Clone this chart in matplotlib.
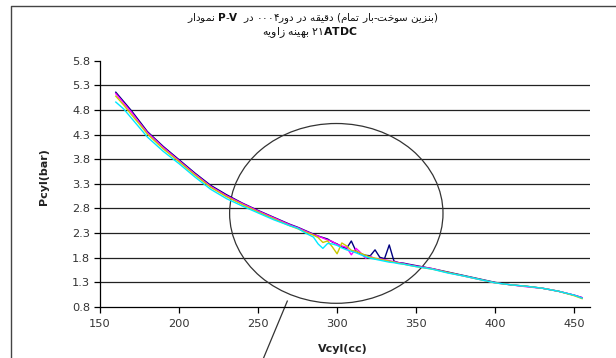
import numpy as np
import matplotlib
matplotlib.use('Agg')
import matplotlib.pyplot as plt
from matplotlib.patches import Ellipse
from matplotlib.lines import Line2D

plt.rcParams['font.family'] = ['DejaVu Sans']
plt.rcParams['mathtext.fontset'] = 'dejavusans'

# === DATA ===
vcyl = [160, 165, 170, 175, 180, 190, 200, 210, 220, 230, 240, 250, 260, 270, 275,
        280, 285, 288, 291, 294, 297, 300, 303, 306, 309, 312, 315, 318, 321, 324,
        327, 330, 333, 336, 339, 342, 345, 350, 360, 370, 380, 390, 400, 410, 420,
        430, 440, 450, 455]

p_navy = [5.16, 4.97, 4.78, 4.57, 4.36, 4.06, 3.79, 3.52, 3.27, 3.08, 2.91, 2.76, 2.62, 2.48, 2.42,
          2.35, 2.28, 2.24, 2.21, 2.18, 2.12, 2.08, 2.02, 1.99, 2.14, 1.93, 1.88, 1.85, 1.84, 1.96,
          1.81, 1.78, 2.06, 1.73, 1.70, 1.69, 1.67, 1.64, 1.58, 1.51, 1.44, 1.37, 1.30, 1.25, 1.22,
          1.18, 1.12, 1.04, 0.99]
p_magenta = [5.13, 4.94, 4.75, 4.54, 4.34, 4.04, 3.77, 3.50, 3.25, 3.06, 2.90, 2.75, 2.61, 2.47, 2.41,
             2.34, 2.27, 2.24, 2.20, 2.16, 2.13, 2.07, 2.04, 2.01, 1.86, 1.99, 1.90, 1.79, 1.83, 1.78,
             1.78, 1.76, 1.74, 1.72, 1.70, 1.68, 1.66, 1.63, 1.58, 1.50, 1.43, 1.36, 1.29, 1.25, 1.21,
             1.18, 1.12, 1.04, 0.99]
p_yellow = [5.08, 4.90, 4.70, 4.51, 4.31, 4.01, 3.75, 3.48, 3.23, 3.04, 2.88, 2.73, 2.59, 2.45, 2.39,
            2.32, 2.26, 2.21, 2.11, 2.14, 2.02, 1.88, 2.10, 2.04, 1.95, 1.93, 1.89, 1.85, 1.81, 1.79,
            1.77, 1.75, 1.73, 1.71, 1.69, 1.67, 1.65, 1.62, 1.57, 1.50, 1.43, 1.36, 1.29, 1.25, 1.22,
            1.18, 1.12, 1.03, 0.97]
p_cyan = [4.96, 4.82, 4.63, 4.44, 4.25, 3.96, 3.71, 3.44, 3.19, 3.00, 2.85, 2.71, 2.57, 2.45, 2.40,
          2.30, 2.22, 2.08, 1.99, 2.09, 2.08, 2.05, 2.00, 1.96, 1.93, 1.90, 1.86, 1.82, 1.79, 1.77,
          1.75, 1.73, 1.71, 1.70, 1.68, 1.67, 1.65, 1.62, 1.57, 1.49, 1.43, 1.36, 1.29, 1.25, 1.22,
          1.18, 1.12, 1.04, 0.98]

series = [p_navy, p_magenta, p_yellow, p_cyan]
colors = ['#000080', '#ff00ff', '#c8c800', '#00e8ff']

x_ticks = [150, 200, 250, 300, 350, 400, 450]
y_ticks = [0.8, 1.3, 1.8, 2.3, 2.8, 3.3, 3.8, 4.3, 4.8, 5.3, 5.8]


# --- tiny Persian shaper (matplotlib does no joining / bidi) ---
FORMS = {
    'ا': ('\uFE8D', '\uFE8E', None, None),
    'ب': ('\uFE8F', '\uFE90', '\uFE91', '\uFE92'),
    'ت': ('\uFE95', '\uFE96', '\uFE97', '\uFE98'),
    'خ': ('\uFEA5', '\uFEA6', '\uFEA7', '\uFEA8'),
    'د': ('\uFEA9', '\uFEAA', None, None),
    'ر': ('\uFEAD', '\uFEAE', None, None),
    'ز': ('\uFEAF', '\uFEB0', None, None),
    'س': ('\uFEB1', '\uFEB2', '\uFEB3', '\uFEB4'),
    'ق': ('\uFED5', '\uFED6', '\uFED7', '\uFED8'),
    'م': ('\uFEE1', '\uFEE2', '\uFEE3', '\uFEE4'),
    'ن': ('\uFEE5', '\uFEE6', '\uFEE7', '\uFEE8'),
    'ه': ('\uFEE9', '\uFEEA', '\uFEEB', '\uFEEC'),
    'و': ('\uFEED', '\uFEEE', None, None),
    'ی': ('\uFEEF', '\uFEF0', '\uFEF3', '\uFEF4'),
}


def fa(word):
    out = []
    for i, ch in enumerate(word):
        f = FORMS[ch]
        prev_joins = i > 0 and FORMS[word[i - 1]][2] is not None
        next_joins = i < len(word) - 1 and f[2] is not None
        if prev_joins and next_joins:
            out.append(f[3])
        elif next_joins:
            out.append(f[2])
        elif prev_joins:
            out.append(f[1])
        else:
            out.append(f[0])
    return ''.join(reversed(out))


title1 = (fa('نمودار') + r' $\mathbf{P}$-$\mathbf{V}$  ' + fa('در') + ' ۰۰۰۴' + fa('دور') + ' '
          + fa('در') + ' ' + fa('دقیقه') + ' (' + fa('تمام') + ' ' + fa('بار') + '-'
          + fa('سوخت') + ' ' + fa('بنزین') + ')')
title2 = fa('زاویه') + ' ' + fa('بهینه') + r' ۲۱$\mathbf{ATDC}$'

fig = plt.figure(figsize=(6.16, 3.58), dpi=100)
ax = fig.add_axes([100 / 616, 1 - 307 / 358, 490 / 616, 246.3 / 358])

for vals, c in zip(series, colors):
    ax.plot(vcyl, vals, color=c, linewidth=1.0)

ax.set_xlim(150, 460)
ax.set_ylim(0.8, 5.8)
ax.set_xticks(x_ticks)
ax.set_yticks(y_ticks)
ax.set_yticklabels(['%.1f' % v for v in y_ticks])
for y in y_ticks[1:-1]:
    ax.axhline(y, color='#222222', linewidth=0.9, zorder=0)

for s in ['top', 'right']:
    ax.spines[s].set_visible(False)
for s in ['left', 'bottom']:
    ax.spines[s].set_color('black')
    ax.spines[s].set_linewidth(0.9)
ax.tick_params(direction='out', length=4, width=0.9, color='black',
               labelsize=8.2, labelcolor='#333333', pad=3)
ax.tick_params(axis='x', pad=4.5)

ax.set_xlabel('Vcyl(cc)', fontsize=8, fontweight='bold', color='#222222')
ax.set_ylabel('Pcyl(bar)', fontsize=8, fontweight='bold', color='#222222')
ax.xaxis.set_label_coords(0.496, -0.15)
ax.yaxis.set_label_coords(-0.105, 0.53)

# highlight circle and pointer
ax.add_patch(Ellipse((299.5, 2.70), 135, 3.65, fill=False, edgecolor='#333333',
                     linewidth=0.9, clip_on=False))
ax.plot([268.5, 250.3], [0.92, -0.48], color='#333333', linewidth=0.9, clip_on=False)

fig.text(313 / 616, 1 - 19 / 358, title1, ha='center', va='center', fontsize=7.5, color='#111111')
fig.text(310 / 616, 1 - 33 / 358, title2, ha='center', va='center', fontsize=7.8, color='#111111')

# chart area border (left and top edges visible)
fig.add_artist(Line2D([11 / 616, 11 / 616, 1], [0, 1 - 6 / 358, 1 - 6 / 358],
                      transform=fig.transFigure, color='#444444', linewidth=1.0))

fig.savefig('out.png', dpi=100, facecolor='white')
